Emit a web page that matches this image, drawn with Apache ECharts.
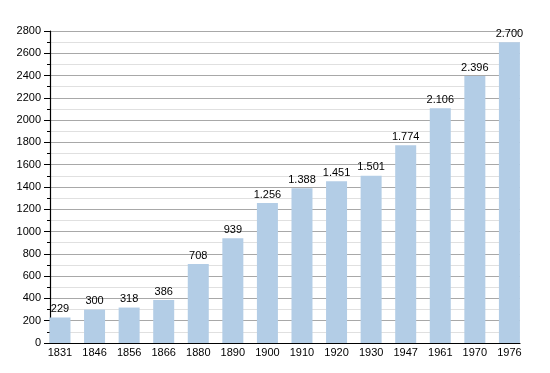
<!DOCTYPE html>
<html><head><meta charset="utf-8">
<script src="https://cdn.jsdelivr.net/npm/echarts@6/dist/echarts.min.js"></script>
<style>html,body{margin:0;padding:0;background:#fff}#c{width:550px;height:373px}</style>
</head><body><div id="c"></div>
<script>
var categories = ['1831','1846','1856','1866','1880','1890','1900','1910','1920','1930','1947','1961','1970','1976'];
var population = [229,300,318,386,708,939,1256,1388,1451,1501,1774,2106,2396,2700];
var yMin = 0, yMax = 2800, yStep = 200;

function fmt(v){ return String(v).replace(/\B(?=(\d{3})+(?!\d))/g,'.'); }

var chart = echarts.init(document.getElementById('c'), null, {renderer:'canvas'});
var FONT = 'Liberation Sans';
chart.setOption({
  animation:false,
  backgroundColor:'#fff',
  grid:[
    {left:50, right:30, top:31, bottom:30},
    {left:42.7, width:484, top:31, bottom:30}
  ],
  xAxis:[
    {gridIndex:0, type:'category', data:categories, show:true,
     axisLine:{lineStyle:{color:'#000',width:1.2}}, axisTick:{show:false}, axisLabel:{show:false}},
    {gridIndex:1, type:'category', data:categories,
     axisLine:{show:false}, axisTick:{show:false},
     axisLabel:{color:'#000', fontFamily:FONT, fontSize:11, margin:4}}
  ],
  yAxis:[
    {gridIndex:0, type:'value', min:yMin, max:yMax, interval:yStep,
     axisLine:{show:true, lineStyle:{color:'#000',width:1.2}},
     axisTick:{show:true, length:6, lineStyle:{color:'#000'}},
     minorTick:{show:true, splitNumber:2, length:3, lineStyle:{color:'#000'}},
     splitLine:{show:true, lineStyle:{color:'#a8a8a8',width:1}},
     minorSplitLine:{show:true, lineStyle:{color:'#e0e0e0',width:1}},
     axisLabel:{color:'#000', fontFamily:FONT, fontSize:11, margin:9,
       formatter:function(v){return String(v);}}},
    {gridIndex:1, type:'value', min:yMin, max:yMax, interval:yStep, show:false, splitLine:{show:false}}
  ],
  series:[{
    type:'bar', xAxisIndex:1, yAxisIndex:1, data:population, barWidth:21,
    itemStyle:{color:'#b3cde6'},
    label:{show:true, position:'top', distance:3, color:'#000', fontFamily:FONT, fontSize:11,
      formatter:function(p){return fmt(p.value);}}
  }]
});
</script></body></html>
